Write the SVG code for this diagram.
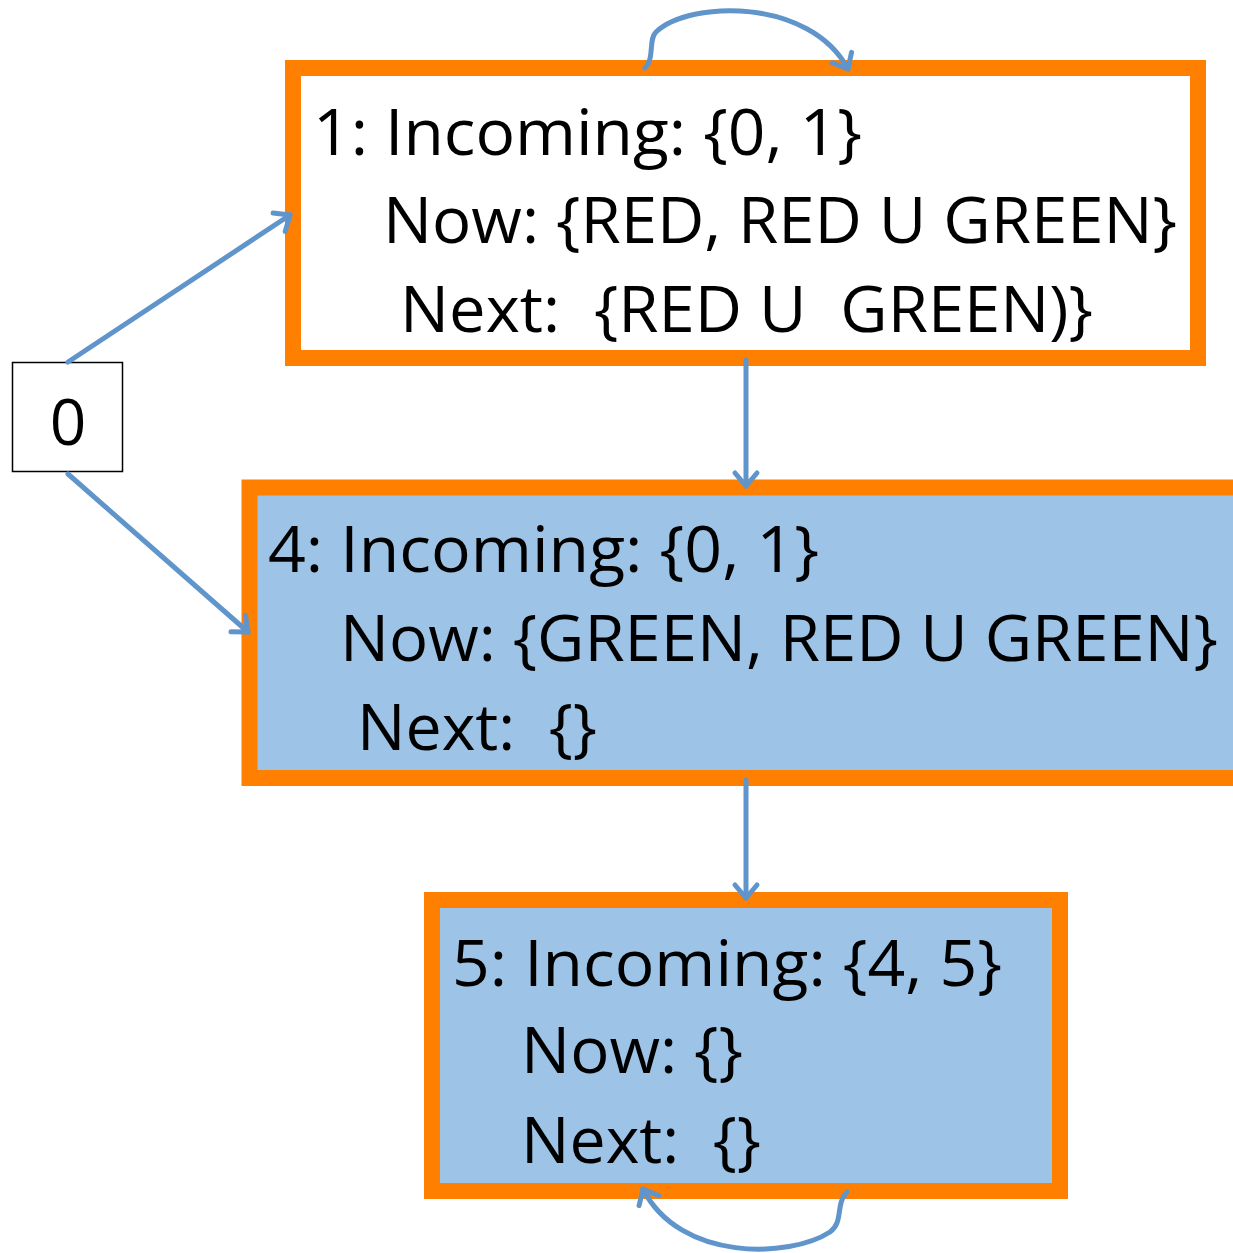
<svg xmlns="http://www.w3.org/2000/svg" width="1233" height="1253" viewBox="0 0 1233 1253">
<style>
.box{stroke:#FF7F00;stroke-width:16;}
.t{font-family:"Open Sans","Liberation Sans",sans-serif;font-size:64px;fill:#000;white-space:pre;}
.e{fill:none;stroke:#5F95CB;stroke-width:5;stroke-linecap:round;}
</style>
<defs>
<marker id="ah" markerUnits="userSpaceOnUse" markerWidth="30" markerHeight="30" refX="17" refY="15" orient="auto" viewBox="0 0 30 30">
<polyline points="4,4 17,15 4,26" fill="none" stroke="#5F95CB" stroke-width="5" stroke-linecap="round" stroke-linejoin="round"/>
</marker>
</defs>
<rect width="1233" height="1253" fill="#fff"/>
<g id="node0">
<rect x="12.5" y="362.5" width="110" height="109" fill="#fff" stroke="#000" stroke-width="1.5"/>
<text class="t" x="68" y="445" text-anchor="middle">0</text>
</g>
<g id="node1">
<rect class="box" x="293" y="68" width="905" height="290" fill="#fff"/>
<text class="t" x="313" y="155" textLength="549" lengthAdjust="spacingAndGlyphs">1: Incoming: {0, 1}</text>
<text class="t" x="383" y="243" textLength="794" lengthAdjust="spacingAndGlyphs">Now: {RED, RED U GREEN}</text>
<text class="t" x="400" y="332" textLength="693" lengthAdjust="spacingAndGlyphs">Next:  {RED U  GREEN)}</text>
</g>
<g id="node4">
<rect class="box" x="249.5" y="487.5" width="1010" height="290.5" fill="#9DC3E6"/>
<text class="t" x="268" y="572" textLength="551" lengthAdjust="spacingAndGlyphs">4: Incoming: {0, 1}</text>
<text class="t" x="340" y="661" textLength="878" lengthAdjust="spacingAndGlyphs">Now: {GREEN, RED U GREEN}</text>
<text class="t" x="357" y="750" textLength="240" lengthAdjust="spacingAndGlyphs">Next:  {}</text>
</g>
<g id="node5">
<rect class="box" x="432" y="900" width="628" height="291" fill="#9DC3E6"/>
<text class="t" x="452" y="986" textLength="550" lengthAdjust="spacingAndGlyphs">5: Incoming: {4, 5}</text>
<text class="t" x="521" y="1073" textLength="222" lengthAdjust="spacingAndGlyphs">Now: {}</text>
<text class="t" x="521" y="1163" textLength="240" lengthAdjust="spacingAndGlyphs">Next:  {}</text>
</g>
<g id="connectors">
<path class="e" d="M68,362 L290,215" marker-end="url(#ah)"/>
<path class="e" d="M68,474 L248,632" marker-end="url(#ah)"/>
<path class="e" d="M746,360 L746,486" marker-end="url(#ah)"/>
<path class="e" d="M746,780 L746,898" marker-end="url(#ah)"/>
<path class="e" d="M645,68 C655,58 648,40 656,32 C690,0 810,-2 848,69" marker-end="url(#ah)"/>
<path class="e" d="M847,1192 C835,1204 844,1222 830,1232 C790,1258 680,1262 643,1189" marker-end="url(#ah)"/>
</g>
</svg>
